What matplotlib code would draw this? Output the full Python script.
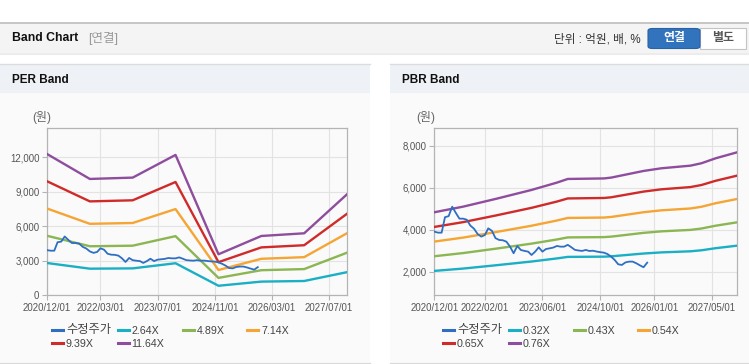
import matplotlib
matplotlib.use('Agg')
import matplotlib.pyplot as plt
import matplotlib.dates as mdates
from matplotlib.patches import Rectangle, FancyBboxPatch
from matplotlib.lines import Line2D
import pandas as pd

plt.rcParams['font.family'] = ['Liberation Sans', 'Noto Sans CJK KR']

# ---- data ----
price_dates = pd.date_range('2020-12-01', periods=60, freq='MS')
price = [3910, 3862, 3862, 4600, 4650, 5100, 4800, 4530, 4530, 4480,
         4200, 4050, 3800, 3672, 3750, 4069, 3950, 3600, 3513, 3500,
         3433, 3194, 2879, 3226, 3035, 2990, 2955, 2796, 2955, 3162,
         2955, 3080, 3114, 3150, 3226, 3194, 3194, 3280, 3162, 3040,
         3010, 2990, 3036, 2987, 3000, 2960, 2930, 2907, 2840, 2717,
         2550, 2353, 2320, 2440, 2480, 2480, 2400, 2300, 2210, 2430]

per_dates = ['2020-12-01', '2021-12-01', '2022-12-01', '2023-12-01',
             '2024-12-01', '2025-12-01', '2026-12-01', '2027-12-01']
per_264 = [2788, 2294, 2321, 2769, 805, 1167, 1220, 1991]
per_489 = [5164, 4249, 4298, 5130, 1491, 2161, 2259, 3687]
per_714 = [7540, 6205, 6276, 7490, 2178, 3156, 3299, 5384]
per_939 = [9916, 8160, 8254, 9850, 2864, 4150, 4338, 7080]
per_1164 = [12292, 10115, 10232, 12210, 3550, 5145, 5378, 8777]

pbr_dates = ['2020-12-01', '2021-08-01', '2022-05-01', '2023-03-01', '2023-10-01',
             '2024-01-01', '2024-11-01', '2025-01-01', '2025-10-01', '2026-03-01',
             '2026-11-01', '2027-02-01', '2027-06-01', '2027-12-01']
pbr_032 = [2036, 2148, 2303, 2484, 2632, 2705, 2716, 2732, 2866, 2920, 2972, 3020, 3120, 3242]
pbr_043 = [2736, 2887, 3095, 3338, 3536, 3635, 3649, 3672, 3852, 3924, 3994, 4059, 4193, 4357]
pbr_054 = [3435, 3626, 3886, 4192, 4441, 4565, 4583, 4611, 4837, 4928, 5016, 5097, 5266, 5471]
pbr_065 = [4135, 4364, 4678, 5046, 5346, 5495, 5517, 5550, 5822, 5931, 6038, 6135, 6338, 6586]
pbr_076 = [4835, 5103, 5470, 5900, 6250, 6425, 6450, 6490, 6807, 6935, 7060, 7174, 7411, 7700]

per_labels = ['수정주가', '2.64X', '4.89X', '7.14X', '9.39X', '11.64X']
pbr_labels = ['수정주가', '0.32X', '0.43X', '0.54X', '0.65X', '0.76X']
per_ticks = ['2020/12/01', '2022/03/01', '2023/07/01', '2024/11/01', '2026/03/01', '2027/07/01']
pbr_ticks = ['2020/12/01', '2022/02/01', '2023/06/01', '2024/10/01', '2026/01/01', '2027/05/01']

colors = ['#2e6fc3', '#1aafc4', '#8bb652', '#f5a534', '#cf2b2a', '#8f4d9d']

W, H = 749, 364
fig = plt.figure(figsize=(W / 100, H / 100), dpi=100)
fig.patch.set_facecolor('white')


def rect(x0, y0, x1, y1, **kw):
    fig.patches.append(Rectangle((x0 / W, 1 - y1 / H), (x1 - x0) / W, (y1 - y0) / H,
                                 transform=fig.transFigure, zorder=-5, **kw))


def hline(x0, x1, y, color, lw=1.0):
    fig.add_artist(Line2D([x0 / W, x1 / W], [1 - y / H, 1 - y / H], color=color, lw=lw,
                          zorder=-4))


def text(x, y, s, **kw):
    fig.text(x / W, 1 - y / H, s, va='center', **kw)


# header bar
rect(0, 23, W, 52, facecolor='#f4f4f4', edgecolor='none')
hline(0, W, 22.5, '#bdbdbd', 1.2)
hline(0, W, 52.5, '#d0d0d0', 1.0)
hline(0, W, 54, '#ececec', 1.5)
text(12, 38, 'Band Chart', fontsize=8.8, fontweight='bold', color='#111111')
text(88, 38.5, '[연결]', fontsize=9, color='#999999')
text(641, 39, '단위 : 억원, 배, %', fontsize=8.4, color='#333333', ha='right')
fig.patches.append(FancyBboxPatch((648 / W, 1 - 48.5 / H), 52 / W, 20 / H,
                                  boxstyle='round,pad=0,rounding_size=0.006',
                                  transform=fig.transFigure, facecolor='#3173bd',
                                  edgecolor='#2a62a3', lw=0.8, zorder=-3))
rect(700, 28.5, 746, 48.5, facecolor='white', edgecolor='#c4c4c4', lw=0.8)
text(674, 38.5, '연결', fontsize=8.6, fontweight='bold', color='white', ha='center')
text(723, 38.5, '별도', fontsize=8.6, fontweight='bold', color='#555555', ha='center')

# panels
for px0, px1, title in [(0, 370, 'PER Band'), (390, W, 'PBR Band')]:
    rect(px0, 64, px1, 93, facecolor='#eef2f7', edgecolor='none')
    rect(px0, 93, px1, 362, facecolor='#fafafa', edgecolor='none')
    hline(px0, px1, 63.5, '#dcdcdc', 1.0)
    hline(px0, px1, 362.5, '#d8d8d8', 1.0)
    text(px0 + 12, 80, title, fontsize=8.5, fontweight='bold', color='#111111')


def draw(ax, bands, band_dates, ticks, ylim, yticks):
    ax.set_facecolor('#fafafa')
    bd = pd.to_datetime(band_dates)
    ax.plot(price_dates, price, color=colors[0], lw=1.3, zorder=5)
    for i, vals in enumerate(bands):
        ax.plot(bd, vals, color=colors[i + 1], lw=1.7, zorder=4)
    ax.set_xlim(pd.Timestamp('2020-12-01'), pd.Timestamp('2027-12-01'))
    ax.set_ylim(*ylim)
    ax.set_xticks(pd.to_datetime(ticks))
    ax.xaxis.set_major_formatter(mdates.DateFormatter('%Y/%m/%d'))
    ax.set_yticks(yticks)
    ax.set_yticklabels([f'{v:,}' for v in yticks])
    ax.grid(True, color='#e3e3e3', lw=0.8)
    ax.set_axisbelow(True)
    for s in ax.spines.values():
        s.set_color('#b4b4b4')
        s.set_linewidth(0.9)
    ax.tick_params(axis='both', colors='#b4b4b4', labelcolor='#555555', labelsize=6.9,
                   length=3.5, width=0.8, pad=2)


ax1 = fig.add_axes([47 / W, 1 - 295 / H, 300 / W, 166.7 / H])
draw(ax1, [per_264, per_489, per_714, per_939, per_1164], per_dates, per_ticks,
     (0, 14530), [0, 3000, 6000, 9000, 12000])
ax2 = fig.add_axes([434.3 / W, 1 - 295 / H, 303 / W, 166.7 / H])
draw(ax2, [pbr_032, pbr_043, pbr_054, pbr_065, pbr_076], pbr_dates, pbr_ticks,
     (886, 8843), [2000, 4000, 6000, 8000])

text(32, 118, '(원)', fontsize=8.6, color='#666666')
text(416, 118, '(원)', fontsize=8.6, color='#666666')

# legends
leg_x = [52, 117.5, 182.5, 247]
for off, labels in [(0, per_labels), (391, pbr_labels)]:
    for i, lab in enumerate(labels):
        row, col = divmod(i, 4)
        x = leg_x[col] + off
        y = 330 + row * 13.3
        fig.add_artist(Line2D([x / W, (x + 11) / W], [1 - y / H] * 2,
                              color=colors[i], lw=2.2))
        fs = 8.8 if i == 0 else 7.7
        text(x + 14, y + 0.5, lab, fontsize=fs, color='#444444')

fig.savefig('out.png', dpi=100, facecolor='white')
